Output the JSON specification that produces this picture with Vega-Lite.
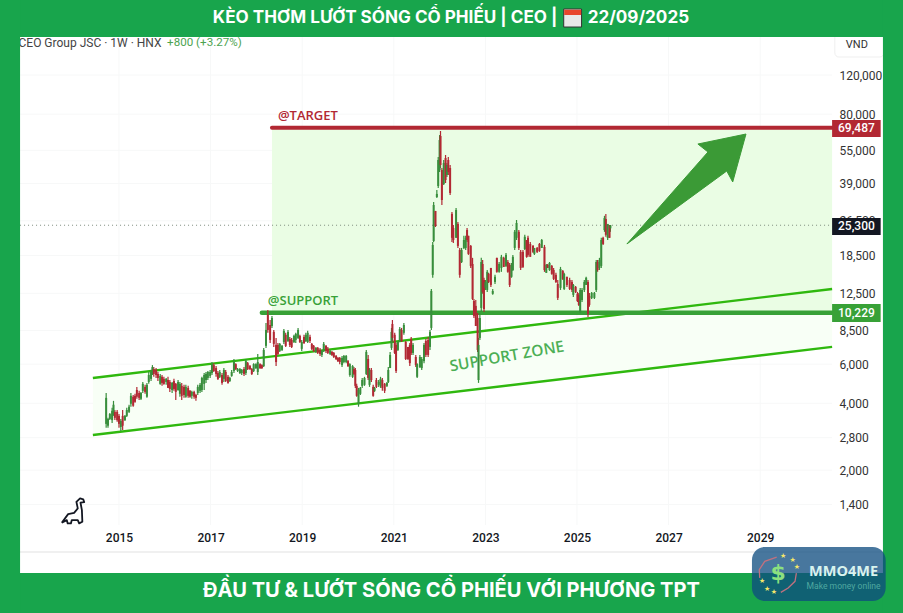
{
"$schema":"https://vega.github.io/schema/vega-lite/v6.json",
"width":903,"height":613,"autosize":{"type":"none"},"padding":0,"background":"#ffffff",
"view":{"fill":"#ffffff","stroke":null},
"datasets":{"candles":[
{"t":2014.72,"o":3230,"h":4450,"l":3100,"c":4230},{"t":2014.76,"o":3170,"h":3440,"l":3100,"c":3400},{"t":2014.80,"o":3400,"h":3620,"l":3360,"c":3580},{"t":2014.85,"o":3360,"h":3820,"l":3260,"c":3700},{"t":2014.88,"o":3580,"h":4100,"l":3510,"c":3940},{"t":2014.91,"o":3660,"h":3730,"l":3360,"c":3440},{"t":2014.96,"o":3660,"h":3730,"l":3300,"c":3360},{"t":2015.00,"o":3510,"h":3580,"l":3100,"c":3230},{"t":2015.04,"o":3130,"h":3400,"l":3000,"c":3330},{"t":2015.08,"o":3510,"h":3730,"l":3030,"c":3170},{"t":2015.13,"o":3360,"h":3540,"l":3330,"c":3510},{"t":2015.17,"o":3510,"h":3820,"l":3470,"c":3730},{"t":2015.22,"o":3660,"h":3940,"l":3620,"c":3860},{"t":2015.26,"o":3980,"h":4450,"l":3860,"c":4320},{"t":2015.31,"o":4280,"h":4360,"l":3860,"c":3900},{"t":2015.35,"o":4320,"h":4410,"l":4020,"c":4060},{"t":2015.39,"o":4590,"h":4740,"l":4190,"c":4280},{"t":2015.44,"o":4450,"h":4550,"l":4140,"c":4230},{"t":2015.48,"o":4190,"h":4500,"l":4140,"c":4450},{"t":2015.52,"o":4550,"h":4990,"l":4450,"c":4890},{"t":2015.57,"o":4740,"h":4840,"l":4410,"c":4500},{"t":2015.61,"o":4280,"h":4940,"l":4230,"c":4840},{"t":2015.65,"o":4990,"h":5530,"l":4890,"c":5360},{"t":2015.70,"o":5150,"h":5650,"l":5040,"c":5530},{"t":2015.73,"o":5470,"h":5940,"l":5360,"c":5820},{"t":2015.76,"o":5700,"h":5820,"l":5260,"c":5420},{"t":2015.81,"o":5650,"h":5760,"l":5200,"c":5360},{"t":2015.85,"o":5420,"h":5530,"l":5040,"c":5200},{"t":2015.90,"o":4890,"h":5420,"l":4840,"c":5310},{"t":2015.94,"o":5260,"h":5360,"l":4790,"c":4940},{"t":2015.98,"o":5150,"h":5260,"l":4840,"c":4890},{"t":2016.03,"o":4990,"h":5200,"l":4840,"c":5150},{"t":2016.07,"o":5090,"h":5260,"l":4690,"c":4690},{"t":2016.11,"o":4990,"h":5090,"l":4500,"c":4640},{"t":2016.16,"o":4590,"h":4990,"l":4450,"c":4940},{"t":2016.20,"o":5040,"h":5150,"l":4550,"c":4640},{"t":2016.24,"o":4890,"h":4940,"l":4140,"c":4500},{"t":2016.29,"o":4590,"h":5090,"l":4550,"c":4990},{"t":2016.33,"o":4410,"h":4990,"l":4280,"c":4890},{"t":2016.37,"o":4790,"h":4940,"l":4140,"c":4320},{"t":2016.42,"o":4740,"h":4840,"l":4230,"c":4360},{"t":2016.46,"o":4280,"h":4840,"l":4230,"c":4740},{"t":2016.51,"o":4690,"h":4790,"l":4230,"c":4320},{"t":2016.55,"o":4550,"h":4590,"l":4230,"c":4280},{"t":2016.59,"o":4320,"h":4550,"l":4190,"c":4500},{"t":2016.64,"o":4500,"h":4550,"l":4190,"c":4280},{"t":2016.68,"o":4360,"h":4410,"l":4100,"c":4230},{"t":2016.72,"o":4450,"h":4840,"l":4360,"c":4740},{"t":2016.77,"o":4550,"h":4940,"l":4450,"c":4840},{"t":2016.81,"o":4590,"h":5260,"l":4500,"c":5200},{"t":2016.86,"o":4890,"h":5470,"l":4590,"c":5360},{"t":2016.90,"o":5090,"h":5530,"l":4940,"c":5420},{"t":2016.94,"o":5200,"h":5590,"l":5090,"c":5530},{"t":2016.99,"o":5310,"h":5650,"l":5200,"c":5530},{"t":2017.03,"o":5470,"h":6130,"l":5360,"c":6000},{"t":2017.07,"o":5940,"h":6060,"l":5530,"c":5590},{"t":2017.12,"o":5760,"h":5880,"l":5260,"c":5420},{"t":2017.16,"o":5470,"h":5590,"l":5090,"c":5150},{"t":2017.20,"o":5260,"h":5650,"l":5200,"c":5530},{"t":2017.25,"o":5360,"h":5470,"l":4840,"c":4940},{"t":2017.29,"o":5150,"h":5760,"l":4990,"c":5650},{"t":2017.33,"o":5530,"h":5650,"l":4990,"c":5040},{"t":2017.38,"o":5260,"h":5360,"l":4890,"c":4940},
{"t":2017.42,"o":5040,"h":5260,"l":4990,"c":5200},{"t":2017.46,"o":5310,"h":5650,"l":5260,"c":5530},{"t":2017.51,"o":5590,"h":6320,"l":5470,"c":6130},{"t":2017.55,"o":6000,"h":6060,"l":5650,"c":5700},{"t":2017.59,"o":5590,"h":5760,"l":5530,"c":5700},{"t":2017.64,"o":5470,"h":5760,"l":5420,"c":5700},{"t":2017.68,"o":5470,"h":5700,"l":5360,"c":5650},{"t":2017.73,"o":5700,"h":5820,"l":5310,"c":5420},{"t":2017.77,"o":5470,"h":6320,"l":5360,"c":6190},{"t":2017.81,"o":6060,"h":6130,"l":5650,"c":5700},{"t":2017.86,"o":5880,"h":5940,"l":5650,"c":5700},{"t":2017.90,"o":5700,"h":5760,"l":5360,"c":5420},{"t":2017.94,"o":5590,"h":6060,"l":5530,"c":6000},{"t":2017.99,"o":5760,"h":6060,"l":5700,"c":6000},{"t":2018.03,"o":5530,"h":6670,"l":5360,"c":6130},{"t":2018.08,"o":6000,"h":6060,"l":5700,"c":5760},{"t":2018.12,"o":5940,"h":6000,"l":5700,"c":5760},{"t":2018.16,"o":5880,"h":7100,"l":5820,"c":6950},{"t":2018.21,"o":7250,"h":9190,"l":7100,"c":8550},{"t":2018.25,"o":9990,"h":10510,"l":8300,"c":8550},{"t":2018.30,"o":9000,"h":9480,"l":7470,"c":7710},{"t":2018.34,"o":8910,"h":9890,"l":8730,"c":9680},{"t":2018.38,"o":8380,"h":8550,"l":7170,"c":7400},{"t":2018.43,"o":7320,"h":7870,"l":5880,"c":6130},{"t":2018.47,"o":7320,"h":7470,"l":6600,"c":6670},{"t":2018.51,"o":6880,"h":7470,"l":6810,"c":7400},{"t":2018.56,"o":6950,"h":7320,"l":6880,"c":7250},{"t":2018.60,"o":7550,"h":8640,"l":7400,"c":8470},{"t":2018.64,"o":8130,"h":8300,"l":7170,"c":7250},{"t":2018.69,"o":7630,"h":8550,"l":7550,"c":8380},{"t":2018.73,"o":7790,"h":7950,"l":7170,"c":7320},{"t":2018.77,"o":7710,"h":7870,"l":7100,"c":7170},{"t":2018.82,"o":7550,"h":8130,"l":7470,"c":8040},{"t":2018.86,"o":7710,"h":8300,"l":7470,"c":8210},{"t":2018.91,"o":7870,"h":8730,"l":7790,"c":8550},{"t":2018.95,"o":8040,"h":8130,"l":7470,"c":7550},{"t":2018.99,"o":7030,"h":7710,"l":6880,"c":7550},{"t":2019.04,"o":7950,"h":8130,"l":7400,"c":7470},{"t":2019.08,"o":7630,"h":8300,"l":7550,"c":8130},{"t":2019.12,"o":7550,"h":8470,"l":7470,"c":8300},{"t":2019.17,"o":7950,"h":8130,"l":7470,"c":7630},{"t":2019.21,"o":7400,"h":7470,"l":6950,"c":7030},{"t":2019.25,"o":7250,"h":7320,"l":6810,"c":6880},{"t":2019.30,"o":6810,"h":7170,"l":6740,"c":7100},{"t":2019.34,"o":7100,"h":7170,"l":6670,"c":6740},{"t":2019.39,"o":6950,"h":7100,"l":6530,"c":6670},{"t":2019.43,"o":6600,"h":6950,"l":6460,"c":6880},{"t":2019.47,"o":6950,"h":7550,"l":6810,"c":7400},{"t":2019.52,"o":7250,"h":7320,"l":6740,"c":6880},{"t":2019.56,"o":7030,"h":7170,"l":6670,"c":6740},{"t":2019.61,"o":6670,"h":6950,"l":6600,"c":6880},{"t":2019.65,"o":6810,"h":6880,"l":6530,"c":6600},{"t":2019.69,"o":6740,"h":6810,"l":6400,"c":6460},{"t":2019.74,"o":6530,"h":6600,"l":6260,"c":6320},{"t":2019.78,"o":6400,"h":6460,"l":6130,"c":6190},{"t":2019.82,"o":6400,"h":6460,"l":6000,"c":6130},{"t":2019.87,"o":5940,"h":6530,"l":5820,"c":6400},{"t":2019.91,"o":6130,"h":6600,"l":6060,"c":6530},{"t":2019.96,"o":6130,"h":6600,"l":6060,"c":6530},{"t":2020.00,"o":6190,"h":6260,"l":5820,"c":5880},{"t":2020.04,"o":5360,"h":6060,"l":5260,"c":6000},{"t":2020.10,"o":5260,"h":5940,"l":5200,"c":5880},{"t":2020.13,"o":5700,"h":5820,"l":5360,"c":5420},{"t":2020.16,"o":5650,"h":5760,"l":4690,"c":4790},{"t":2020.19,"o":4790,"h":4890,"l":4280,"c":4320},{"t":2020.23,"o":3980,"h":4690,"l":3860,"c":4590},{"t":2020.27,"o":4410,"h":4740,"l":4360,"c":4690},{"t":2020.31,"o":4790,"h":5200,"l":4690,"c":5090},{"t":2020.36,"o":4840,"h":5260,"l":4790,"c":5200},{"t":2020.40,"o":5420,"h":6950,"l":5360,"c":6810},{"t":2020.44,"o":6330,"h":6600,"l":5090,"c":5200},{"t":2020.47,"o":4840,"h":5760,"l":4740,"c":5650},{"t":2020.51,"o":5650,"h":5760,"l":4990,"c":5090},{"t":2020.55,"o":4740,"h":4840,"l":4280,"c":4320},{"t":2020.58,"o":4550,"h":4740,"l":4500,"c":4690},{"t":2020.62,"o":5090,"h":5200,"l":4690,"c":4740},{"t":2020.67,"o":4840,"h":5090,"l":4740,"c":4990},{"t":2020.71,"o":4790,"h":5260,"l":4690,"c":5150},{"t":2020.75,"o":5090,"h":5200,"l":4550,"c":4690},{"t":2020.80,"o":4890,"h":4940,"l":4450,"c":4550},{"t":2020.85,"o":4790,"h":4990,"l":4740,"c":4940},{"t":2020.88,"o":4990,"h":5820,"l":4940,"c":5650},{"t":2020.92,"o":5760,"h":6810,"l":5760,"c":6600},{"t":2020.95,"o":7100,"h":8730,"l":6950,"c":8380},{"t":2020.97,"o":9100,"h":9480,"l":7550,"c":7870},{"t":2021.02,"o":8130,"h":8300,"l":6670,"c":6740},{"t":2021.05,"o":7320,"h":7470,"l":5470,"c":5590},{"t":2021.09,"o":6950,"h":7630,"l":6880,"c":7550},{"t":2021.13,"o":7630,"h":8820,"l":7550,"c":8640},{"t":2021.17,"o":8550,"h":8730,"l":7550,"c":7630},{"t":2021.22,"o":8300,"h":9190,"l":8130,"c":9000},{"t":2021.26,"o":7550,"h":7630,"l":6260,"c":6330},{"t":2021.31,"o":7170,"h":7170,"l":6260,"c":6330},{"t":2021.35,"o":7320,"h":7470,"l":5880,"c":6060},{"t":2021.38,"o":7790,"h":7950,"l":6600,"c":6740},{"t":2021.42,"o":6740,"h":7470,"l":6600,"c":7320},{"t":2021.48,"o":6460,"h":6600,"l":5820,"c":5940},{"t":2021.51,"o":5260,"h":6060,"l":5200,"c":6000},{"t":2021.57,"o":5820,"h":6600,"l":5760,"c":6460},{"t":2021.61,"o":5760,"h":6460,"l":5650,"c":6330},{"t":2021.66,"o":6190,"h":7470,"l":6060,"c":7320},{"t":2021.70,"o":7630,"h":7790,"l":6460,"c":6600},{"t":2021.75,"o":7710,"h":7950,"l":6460,"c":6600},{"t":2021.79,"o":7170,"h":8550,"l":6950,"c":8380},{"t":2021.82,"o":8730,"h":13080,"l":8550,"c":12810},{"t":2021.85,"o":15130,"h":21260,"l":14680,"c":20630},{"t":2021.87,"o":21480,"h":32200,"l":21260,"c":31220},{"t":2021.91,"o":29340,"h":29340,"l":24850,"c":25100},{"t":2021.94,"o":33900,"h":36450,"l":33550,"c":35000},{"t":2021.97,"o":38000,"h":51300,"l":37220,"c":49740},{"t":2022.00,"o":44840,"h":64430,"l":43920,"c":61180},{"t":2022.02,"o":63770,"h":67180,"l":45790,"c":47230},{"t":2022.05,"o":44840,"h":45790,"l":31220,"c":32860},{"t":2022.09,"o":38790,"h":49740,"l":38390,"c":48230},{"t":2022.13,"o":50770,"h":52380,"l":39200,"c":40430},{"t":2022.16,"o":42580,"h":48230,"l":41700,"c":47230},{"t":2022.19,"o":49740,"h":51300,"l":42580,"c":43920},{"t":2022.23,"o":45790,"h":47230,"l":34610,"c":35330},{"t":2022.27,"o":28460,"h":29050,"l":21260,"c":22210},{"t":2022.30,"o":24600,"h":25370,"l":21050,"c":21710},{"t":2022.36,"o":22210,"h":30280,"l":22210,"c":29630},{"t":2022.40,"o":25650,"h":26160,"l":20000,"c":20420},{"t":2022.44,"o":19570,"h":20000,"l":14680,"c":15130},{"t":2022.48,"o":17290,"h":20000,"l":17110,"c":19570},{"t":2022.53,"o":20000,"h":22680,"l":19780,"c":21710},{"t":2022.57,"o":20000,"h":22680,"l":19570,"c":22210},{"t":2022.60,"o":24080,"h":24600,"l":21260,"c":21710},{"t":2022.63,"o":22680,"h":22680,"l":18610,"c":18800},{"t":2022.68,"o":20420,"h":20630,"l":16260,"c":16600},{"t":2022.72,"o":16940,"h":18050,"l":11660,"c":11790},{"t":2022.75,"o":11540,"h":11790,"l":9680,"c":9890},{"t":2022.79,"o":10970,"h":11660,"l":8910,"c":8910},{"t":2022.83,"o":9680,"h":10190,"l":6810,"c":6950},{"t":2022.85,"o":5090,"h":7870,"l":4940,"c":7320},{"t":2022.88,"o":7870,"h":10190,"l":7710,"c":9680},
{"t":2022.91,"o":10740,"h":18050,"l":10300,"c":17290},{"t":2022.94,"o":16940,"h":17650,"l":12430,"c":12680},{"t":2022.97,"o":14350,"h":14680,"l":10300,"c":10620},{"t":2023.00,"o":13220,"h":14350,"l":12940,"c":14060},{"t":2023.04,"o":12940,"h":15910,"l":12680,"c":15610},{"t":2023.07,"o":15290,"h":15450,"l":13910,"c":14060},{"t":2023.12,"o":16260,"h":16260,"l":13350,"c":13630},{"t":2023.16,"o":12430,"h":13080,"l":12300,"c":12800},{"t":2023.21,"o":14060,"h":15130,"l":13770,"c":14830},{"t":2023.25,"o":18050,"h":18050,"l":15450,"c":15610},{"t":2023.30,"o":15610,"h":17290,"l":15450,"c":16940},{"t":2023.35,"o":16260,"h":18610,"l":15610,"c":18240},{"t":2023.40,"o":18050,"h":18240,"l":16430,"c":16430},{"t":2023.45,"o":16600,"h":19000,"l":16430,"c":18610},{"t":2023.49,"o":17290,"h":17650,"l":15450,"c":15610},{"t":2023.53,"o":16770,"h":17110,"l":13350,"c":13630},{"t":2023.57,"o":14830,"h":17110,"l":14680,"c":16770},{"t":2023.60,"o":15910,"h":18610,"l":15760,"c":18240},{"t":2023.64,"o":20000,"h":24080,"l":19570,"c":23630},{"t":2023.68,"o":22210,"h":26710,"l":21710,"c":25900},{"t":2023.73,"o":23630,"h":24080,"l":19570,"c":20000},{"t":2023.77,"o":19200,"h":19570,"l":15910,"c":16260},{"t":2023.82,"o":19200,"h":19570,"l":16260,"c":16430},{"t":2023.86,"o":19780,"h":22910,"l":19570,"c":22440},{"t":2023.90,"o":21710,"h":21710,"l":18050,"c":18240},{"t":2023.93,"o":22210,"h":22680,"l":18240,"c":18610},{"t":2023.98,"o":20840,"h":21260,"l":18240,"c":18240},{"t":2024.04,"o":20420,"h":20630,"l":19000,"c":19200},{"t":2024.07,"o":18800,"h":20000,"l":18610,"c":20000},{"t":2024.13,"o":20000,"h":20210,"l":19000,"c":19200},{"t":2024.18,"o":20840,"h":21050,"l":19200,"c":19380},{"t":2024.23,"o":20000,"h":21960,"l":20000,"c":21710},{"t":2024.29,"o":20210,"h":20630,"l":15610,"c":15910},{"t":2024.33,"o":15450,"h":16940,"l":15450,"c":16770},{"t":2024.36,"o":16770,"h":16940,"l":16260,"c":16260},{"t":2024.40,"o":15910,"h":17290,"l":15760,"c":17110},{"t":2024.45,"o":16600,"h":16770,"l":15130,"c":15290},{"t":2024.49,"o":15910,"h":16260,"l":14350,"c":14510},{"t":2024.54,"o":15130,"h":15450,"l":13910,"c":14060},{"t":2024.58,"o":13770,"h":14350,"l":11660,"c":11920},{"t":2024.64,"o":13220,"h":16430,"l":12940,"c":16080},{"t":2024.69,"o":15760,"h":15910,"l":14350,"c":14510},{"t":2024.72,"o":13080,"h":15450,"l":12940,"c":15290},{"t":2024.78,"o":14830,"h":14830,"l":13350,"c":13630},{"t":2024.84,"o":14350,"h":14680,"l":12940,"c":13080},{"t":2024.89,"o":14060,"h":14350,"l":12680,"c":12940},{"t":2024.92,"o":12300,"h":13770,"l":12040,"c":13630},{"t":2024.97,"o":13350,"h":13490,"l":12550,"c":12680},{"t":2025.01,"o":12430,"h":12680,"l":11420,"c":11540},{"t":2025.04,"o":12300,"h":12550,"l":10970,"c":11080},{"t":2025.07,"o":10300,"h":13220,"l":10190,"c":12940},{"t":2025.11,"o":11660,"h":13220,"l":11420,"c":12940},{"t":2025.16,"o":12940,"h":14350,"l":12680,"c":14060},{"t":2025.20,"o":13630,"h":14830,"l":13630,"c":14680},{"t":2025.24,"o":14060,"h":14350,"l":9790,"c":10090},{"t":2025.27,"o":12170,"h":12550,"l":10860,"c":11080},{"t":2025.32,"o":11920,"h":12680,"l":11790,"c":12550},{"t":2025.38,"o":11920,"h":12680,"l":11790,"c":12550},{"t":2025.42,"o":12940,"h":17650,"l":12680,"c":17290},{"t":2025.45,"o":17290,"h":17650,"l":15610,"c":15910},{"t":2025.49,"o":16260,"h":18050,"l":15910,"c":17650},{"t":2025.53,"o":16600,"h":22210,"l":16260,"c":21710},{"t":2025.57,"o":22210,"h":22440,"l":20630,"c":20840},{"t":2025.60,"o":24080,"h":27900,"l":23630,"c":27260},{"t":2025.63,"o":27000,"h":28460,"l":22440,"c":22910},{"t":2025.67,"o":22210,"h":25650,"l":21710,"c":25650},{"t":2025.71,"o":25300,"h":25370,"l":22210,"c":22210},{"t":2025.73,"o":24500,"h":25370,"l":23630,"c":25300}
]},
"encoding":{
"x":{"field":"t","type":"quantitative","scale":{"domain":[2012.402,2032.118],"nice":false,"zero":false},"title":null,
 "axis":{"values":[2015,2017,2019,2021,2023,2025,2027,2029],"format":"d","orient":"bottom","offset":-84,"domain":false,"ticks":false,"grid":false,"labelPadding":3,"labelFont":"Roboto","labelFontSize":12,"labelFontWeight":500,"labelColor":"#131722","labelFlush":false,"zindex":0}},
"y":{"field":"p","type":"quantitative","scale":{"type":"log","domain":[455.2,261060],"nice":false,"zero":false},"title":null,
 "axis":{"values":[120000,80000,55000,39000,26500,18500,12500,8500,6000,4000,2800,2000,1400],"format":",d","orient":"right","offset":-67,"domain":false,"ticks":false,"grid":false,"labelPadding":3,"labelFont":"Roboto","labelFontSize":12,"labelColor":"#333333","labelAlign":"left","zindex":0}}
},
"layer":[
{"data":{"values":[{"t":2015,"p":177900,"p2":1132},{"t":2017,"p":177900,"p2":1132},{"t":2019,"p":177900,"p2":1132},{"t":2021,"p":177900,"p2":1132},{"t":2023,"p":177900,"p2":1132},{"t":2025,"p":177900,"p2":1132},{"t":2027,"p":177900,"p2":1132},{"t":2029,"p":177900,"p2":1132}]},"mark":{"type":"rule","color":"#f7f8f8","strokeWidth":1},"encoding":{"y2":{"field":"p2"}}},
{"data":{"values":[{"t":2012.84,"t2":2030.57,"p":120000},{"t":2012.84,"t2":2030.57,"p":80000},{"t":2012.84,"t2":2030.57,"p":55000},{"t":2012.84,"t2":2030.57,"p":39000},{"t":2012.84,"t2":2030.57,"p":26500},{"t":2012.84,"t2":2030.57,"p":18500},{"t":2012.84,"t2":2030.57,"p":12500},{"t":2012.84,"t2":2030.57,"p":8500},{"t":2012.84,"t2":2030.57,"p":6000},{"t":2012.84,"t2":2030.57,"p":4000},{"t":2012.84,"t2":2030.57,"p":2800},{"t":2012.84,"t2":2030.57,"p":2000},{"t":2012.84,"t2":2030.57,"p":1400}]},"mark":{"type":"rule","color":"#f7f8f8","strokeWidth":1},"encoding":{"x2":{"field":"t2"}}},
{"data":{"values":[{"t":2012.84,"t2":2031.68,"p":857}]},"mark":{"type":"rule","color":"#f0f0f0","strokeWidth":2},"encoding":{"x2":{"field":"t2"}}},
{"data":{"values":[{"t":2014.43,"p":5197,"p2":2877},{"t":2030.57,"p":13075,"p2":7170}]},"mark":{"type":"area","color":"#F8FFF6","opacity":1},"encoding":{"y2":{"field":"p2"}}},
{"data":{"values":[{"t":2018.34,"t2":2030.57,"p":69487,"p2":10229}]},"mark":{"type":"rect","color":"#EAFDE4"},"encoding":{"x2":{"field":"t2"},"y2":{"field":"p2"}}},
{"data":{"values":[{"t":2014.43,"p":5197},{"t":2030.57,"p":13075}]},"mark":{"type":"line","color":"#2FB80E","strokeWidth":2.4}},
{"data":{"values":[{"t":2014.43,"p":2877},{"t":2030.57,"p":7170}]},"mark":{"type":"line","color":"#2FB80E","strokeWidth":2.4}},
{"data":{"values":[{"t":2018.12,"t2":2030.57,"p":10229}]},"mark":{"type":"rule","color":"#38A137","strokeWidth":4.5,"strokeCap":"round"},"encoding":{"x2":{"field":"t2"}}},
{"data":{"values":[{"t":2018.34,"t2":2030.57,"p":69487}]},"mark":{"type":"rule","color":"#B22833","strokeWidth":4,"strokeCap":"round"},"encoding":{"x2":{"field":"t2"}}},
{"data":{"values":[{"t":2012.84,"t2":2030.57,"p":25300}]},"mark":{"type":"rule","color":"#7f8c7f","strokeWidth":1,"strokeDash":[1,3]},"encoding":{"x2":{"field":"t2"}}},
{"data":{"name":"candles"},"mark":{"type":"rule","strokeWidth":1.2},"encoding":{"y":{"field":"l","type":"quantitative","title":null,"scale":{"type":"log","domain":[455.2,261060],"nice":false,"zero":false},"axis":{"values":[120000,80000,55000,39000,26500,18500,12500,8500,6000,4000,2800,2000,1400],"format":",d","orient":"right","offset":-67,"domain":false,"ticks":false,"grid":false,"labelPadding":3,"labelFont":"Roboto","labelFontSize":12,"labelColor":"#333333","labelAlign":"left","zindex":0}},"y2":{"field":"h"},"color":{"condition":{"test":"datum.c>=datum.o","value":"#388E3C"},"value":"#B22833"}}},
{"data":{"name":"candles"},"mark":{"type":"rule","strokeWidth":2},"encoding":{"y":{"field":"o","type":"quantitative","title":null,"scale":{"type":"log","domain":[455.2,261060],"nice":false,"zero":false},"axis":{"values":[120000,80000,55000,39000,26500,18500,12500,8500,6000,4000,2800,2000,1400],"format":",d","orient":"right","offset":-67,"domain":false,"ticks":false,"grid":false,"labelPadding":3,"labelFont":"Roboto","labelFontSize":12,"labelColor":"#333333","labelAlign":"left","zindex":0}},"y2":{"field":"c"},"color":{"condition":{"test":"datum.c>=datum.o","value":"#388E3C"},"value":"#B22833"}}},
{"data":{"values":[{"i":1,"t":2026.09,"p":20840},{"i":2,"t":2027.86,"p":54040},{"i":3,"t":2027.64,"p":58700},{"i":4,"t":2028.69,"p":65110},{"i":5,"t":2028.40,"p":39610},{"i":6,"t":2028.27,"p":44380},{"i":7,"t":2026.09,"p":20840}]},"mark":{"type":"line","fill":"#3B9A36","stroke":"#3B9A36","strokeWidth":1,"strokeJoin":"round"},"encoding":{"order":{"field":"i","type":"quantitative"}}},
{"data":{"values":[{"t":2018.47,"p":78470,"label":"@TARGET"}]},"mark":{"type":"text","align":"left","baseline":"middle","font":"Open Sans","fontSize":13,"fontWeight":600,"color":"#B22833"},"encoding":{"text":{"field":"label"}}},
{"data":{"values":[{"t":2018.25,"p":11540,"label":"@SUPPORT"}]},"mark":{"type":"text","align":"left","baseline":"middle","font":"Open Sans","fontSize":13,"fontWeight":600,"color":"#38A137"},"encoding":{"text":{"field":"label"}}},
{"data":{"values":[{"t":2023.47,"p":6500,"label":"SUPPORT  ZONE"}]},"mark":{"type":"text","align":"center","baseline":"middle","font":"Open Sans","fontSize":15.5,"fontWeight":600,"color":"#4CAF55","angle":350},"encoding":{"text":{"field":"label"}}},
{"data":{"values":[{"t":2012.806,"p":167000,"label":"CEO Group JSC · 1W · HNX"}]},"mark":{"type":"text","align":"left","baseline":"middle","font":"Roboto","fontSize":12,"color":"#444444"},"encoding":{"text":{"field":"label"}}},
{"data":{"values":[{"t":2016.05,"p":167000,"label":"+800 (+3.27%)"}]},"mark":{"type":"text","align":"left","baseline":"middle","font":"Roboto","fontSize":11.6,"color":"#4CA350"},"encoding":{"text":{"field":"label"}}},
{"data":{"values":[{"t":2030.63,"t2":2031.7,"p":185000,"p2":144600}]},"mark":{"type":"rect","fill":"#ffffff","stroke":"#efefef","cornerRadius":4},"encoding":{"x2":{"field":"t2"},"y2":{"field":"p2"}}},
{"data":{"values":[{"t":2031.11,"p":163000,"label":"VND"}]},"mark":{"type":"text","align":"center","baseline":"middle","font":"Roboto","fontSize":11,"color":"#333333"},"encoding":{"text":{"field":"label"}}},
{"data":{"values":[{"t":2030.57,"t2":2031.63,"p":75280,"p2":63110}]},"mark":{"type":"rect","color":"#B22833"},"encoding":{"x2":{"field":"t2"},"y2":{"field":"p2"}}},
{"data":{"values":[{"t":2030.57,"t2":2031.63,"p":27260,"p2":22860}]},"mark":{"type":"rect","color":"#131722"},"encoding":{"x2":{"field":"t2"},"y2":{"field":"p2"}}},
{"data":{"values":[{"t":2030.57,"t2":2031.63,"p":11190,"p2":9280}]},"mark":{"type":"rect","color":"#38A137"},"encoding":{"x2":{"field":"t2"},"y2":{"field":"p2"}}},
{"data":{"values":[{"t":2031.10,"p":69000,"label":"69,487"},{"t":2031.10,"p":25000,"label":"25,300"},{"t":2031.10,"p":10190,"label":"10,229"}]},"mark":{"type":"text","align":"center","baseline":"middle","font":"Roboto","fontSize":12,"fontWeight":500,"color":"#ffffff"},"encoding":{"text":{"field":"label"}}},
{"data":{"values":[{"i":1,"t":2013.75,"p":1159},{"i":2,"t":2013.89,"p":1268},{"i":3,"t":2014.02,"p":1285},{"i":4,"t":2014.10,"p":1345},{"i":5,"t":2014.07,"p":1441},{"i":6,"t":2014.15,"p":1493},{"i":7,"t":2014.22,"p":1477},{"i":8,"t":2014.24,"p":1437},{"i":9,"t":2014.16,"p":1427},{"i":10,"t":2014.19,"p":1322},{"i":11,"t":2014.20,"p":1171},{"i":12,"t":2014.13,"p":1152},{"i":13,"t":2014.10,"p":1192},{"i":14,"t":2013.97,"p":1192},{"i":15,"t":2013.95,"p":1152},{"i":16,"t":2013.88,"p":1152},{"i":17,"t":2013.86,"p":1192},{"i":18,"t":2013.75,"p":1159}]},"mark":{"type":"line","color":"#131722","strokeWidth":1.8,"strokeJoin":"round"},"encoding":{"order":{"field":"i","type":"quantitative"}}},
{"data":{"values":[{"t":2012.402,"t2":2032.118,"p":261060,"p2":177900},{"t":2012.402,"t2":2032.118,"p":688.6,"p2":455.2},{"t":2012.402,"t2":2012.84,"p":261060,"p2":455.2},{"t":2031.68,"t2":2032.118,"p":261060,"p2":455.2}]},"mark":{"type":"rect","color":"#18A54C"},"encoding":{"x2":{"field":"t2"},"y2":{"field":"p2"}}},
{"data":{"values":[{"t":2020.81,"p":216600,"label":"KÈO THƠM LƯỚT SÓNG CỔ PHIẾU | CEO |"},{"t":2026.34,"p":216600,"label":"22/09/2025"}]},"mark":{"type":"text","align":"center","baseline":"middle","font":"Inter","fontSize":17.1,"fontWeight":700,"color":"#ffffff"},"encoding":{"text":{"field":"label"}}},
{"data":{"values":[{"t":2024.71,"t2":2025.10,"p":237800,"p2":197300}]},"mark":{"type":"rect","fill":"#e8e8e8","stroke":"#333333","strokeWidth":1},"encoding":{"x2":{"field":"t2"},"y2":{"field":"p2"}}},
{"data":{"values":[{"t":2024.72,"t2":2025.09,"p":236000,"p2":223500}]},"mark":{"type":"rect","color":"#E8452C"},"encoding":{"x2":{"field":"t2"},"y2":{"field":"p2"}}},
{"data":{"values":[{"t":2022.26,"p":571,"label":"ĐẦU TƯ & LƯỚT SÓNG CỔ PHIẾU VỚI PHƯƠNG TPT"}]},"mark":{"type":"text","align":"center","baseline":"middle","font":"Inter","fontSize":20.1,"fontWeight":700,"color":"#ffffff"},"encoding":{"text":{"field":"label"}}},
{"data":{"values":[{"t":2028.82,"t2":2031.74,"p":901.6,"p2":515}]},"mark":{"type":"rect","color":"#0F4C80","opacity":0.76,"cornerRadius":13},"encoding":{"x2":{"field":"t2"},"y2":{"field":"p2"}}},
{"data":{"values":[{"t":2029.36,"p":813},{"t":2029.10,"p":778},{"t":2028.98,"p":713},{"t":2028.99,"p":655}]},"mark":{"type":"line","color":"#C0717F","strokeWidth":1.3,"order":false}},
{"data":{"values":[{"t":2029.45,"p":564},{"t":2029.61,"p":590},{"t":2029.76,"p":632},{"t":2029.79,"p":688}]},"mark":{"type":"line","color":"#C0717F","strokeWidth":1.3,"order":false}},
{"data":{"values":[{"t":2029.50,"p":822,"label":"★"},{"t":2029.71,"p":788,"label":"★"},{"t":2029.80,"p":733,"label":"★"},{"t":2029.04,"p":634,"label":"★"},{"t":2029.15,"p":584,"label":"★"},{"t":2029.30,"p":565,"label":"★"}]},"mark":{"type":"text","align":"center","baseline":"middle","font":"DejaVu Sans","fontSize":7,"color":"#F5E76A"},"encoding":{"text":{"field":"label"}}},
{"data":{"values":[{"t":2029.39,"p":688,"label":"$"}]},"mark":{"type":"text","align":"center","baseline":"middle","font":"DejaVu Sans","fontSize":22,"fontWeight":700,"color":"#8BE07F"},"encoding":{"text":{"field":"label"}}},
{"data":{"values":[{"t":2030.82,"p":696,"label":"MMO4ME"}]},"mark":{"type":"text","align":"center","baseline":"middle","font":"Open Sans","fontSize":14.5,"fontWeight":700,"color":"#D8F3EE"},"encoding":{"text":{"field":"label"}}},
{"data":{"values":[{"t":2030.82,"p":602,"label":"Make money online"}]},"mark":{"type":"text","align":"center","baseline":"middle","font":"Roboto","fontSize":8.6,"color":"#4FA8A0"},"encoding":{"text":{"field":"label"}}}
]
}
